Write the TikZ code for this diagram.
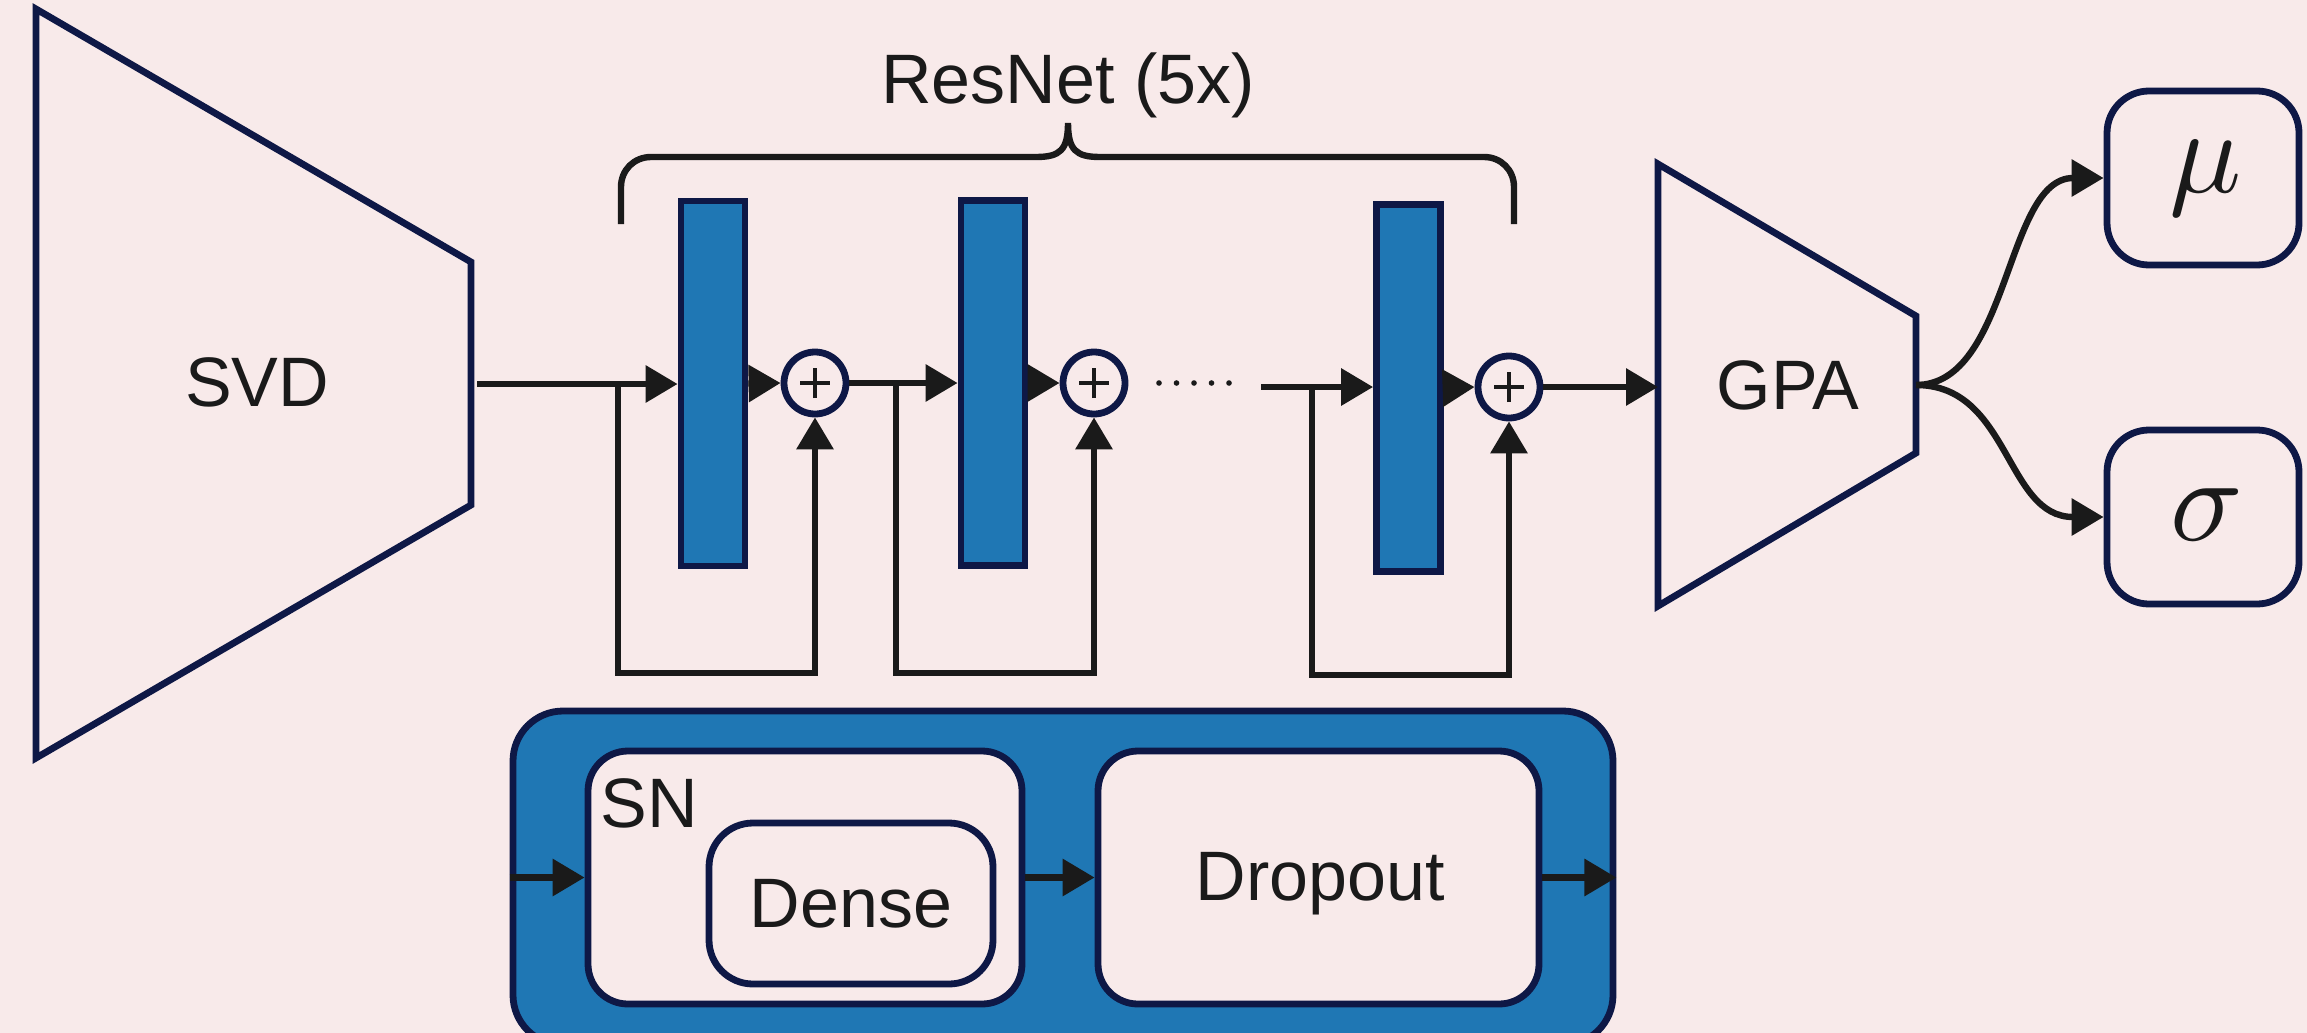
\documentclass[tikz,border=0pt]{standalone}
\usepackage{fontspec}
\setmainfont{Liberation Sans}
\usetikzlibrary{arrows.meta,calc}
\definecolor{bg}{RGB}{248,234,234}
\definecolor{tabblue}{RGB}{31,119,180}
\definecolor{navy}{RGB}{14,24,70}
\definecolor{ink}{RGB}{26,26,26}
\begin{document}
\begin{tikzpicture}[x=0.5pt,y=-0.5pt,
  arr/.style={draw=ink,line width=3.2pt,-{Triangle[length=16pt,width=18pt]}},
  ln/.style={draw=ink,line width=3.2pt},
  outl/.style={draw=navy,line width=3.4pt},
  bar/.style={outl,fill=tabblue,minimum width=32pt,minimum height=182.5pt,inner sep=0pt},
  plus/.style={circle,outl,fill=bg,minimum size=31pt,inner sep=0pt,
    path picture={\draw[ink,line width=2.2pt]
      ([xshift=-7.5pt]path picture bounding box.center) -- ([xshift=7.5pt]path picture bounding box.center)
      ([yshift=-7.5pt]path picture bounding box.center) -- ([yshift=7.5pt]path picture bounding box.center);}},
  lbl/.style={font=\fontsize{35}{42}\selectfont,text=ink,inner sep=0pt},
  rbox/.style={outl,fill=bg,rounded corners=20pt,inner sep=0pt},
  outbox/.style={outl,fill=bg,rounded corners=21pt,inner sep=0pt,minimum width=96pt,minimum height=87pt},
  greek/.style={scale=6,text=ink,inner sep=0pt},
]
\useasboundingbox (0,0) rectangle (2307,1033);
\clip (0,0) rectangle (2307,1033);
\fill[bg] (0,0) rectangle (2307,1033);

% SVD
\draw[outl,line join=miter] (36,9) -- (471,262) -- (471,505) -- (36,758) -- cycle;
\node[lbl] (svd) at (257,382) {SVD};
\coordinate (svdR) at (477,384);

% GPA
\draw[outl,line join=miter] (1658,164) -- (1916,316) -- (1916,453) -- (1658,606) -- cycle;
\node[lbl] (gpa) at (1788,385) {GPA};
\coordinate (gpaL) at (1658,387);
\coordinate (gpaR) at (1916,385);

% outputs
\node[outbox] (mu) at (2203,178) {};
\node[outbox] (sigma) at (2203,517) {};
\node[greek] (mul) at (2206,178) {$\mu$};
\node[greek] (sigmal) at (2207,515) {$\sigma$};

% residual blocks
\node[bar] (b1) at (713,383.5) {};
\node[bar] (b2) at (993,383) {};
\node[bar,minimum height=183.5pt] (b3) at (1408.5,388) {};
\node[plus] (c1) at (815,383) {};
\node[plus] (c2) at (1094,383) {};
\node[plus] (c3) at (1509,387) {};

\coordinate (br1) at (618,384);
\coordinate (l1) at (618,673);
\coordinate (br2) at (896,383);
\coordinate (l2) at (896,673);
\coordinate (in3) at (1261,387);
\coordinate (br3) at (1312,387);
\coordinate (l3) at (1312,675);

\draw[arr] (svdR) -- (svdR -| b1.west);
\draw[arr] (br1) -- (l1) -| (c1.south);
\draw[arr] (b1.east) -- (c1.west);
\draw[arr] (c1.east) -- (c1.east -| b2.west);
\draw[arr] (br2) -- (l2) -| (c2.south);
\draw[arr] (b2.east) -- (c2.west);

\foreach \i in {0,...,4} \fill[ink] (1159+\i*17.5,383) circle (1.4pt);

\draw[arr] (in3) -- (in3 -| b3.west);
\draw[arr] (br3) -- (l3) -| (c3.south);
\draw[arr] (b3.east) -- (c3.west);
\draw[arr] (c3.east) -- (gpaL);

\draw[arr] (gpaR) .. controls (2010,385) and (2005,178) .. (mu.west);
\draw[arr] (gpaR) .. controls (2010,385) and (2005,517) .. (sigma.west);

% brace
\draw[ln] (621,224) -- (621,187) .. controls (621,170) and (634,157) .. (651,157) -- (1036,157)
  .. controls (1060,157) and (1068,150) .. (1068,123)
  .. controls (1068,150) and (1076,157) .. (1100,157) -- (1484,157)
  .. controls (1501,157) and (1514,170) .. (1514,187) -- (1514,224);
\node[lbl,anchor=base] (resnet) at (1068,103) {ResNet (5x)};

% module detail
\node[outl,fill=tabblue,rounded corners=25pt,minimum width=550pt,minimum height=167pt,inner sep=0pt] (mod) at (1063,878) {};
\node[rbox,minimum width=217pt,minimum height=126.5pt] (sn) at (805,877.5) {};
\node[rbox,rounded corners=22pt,minimum width=142pt,minimum height=80.5pt] (dense) at (851,903.5) {};
\node[rbox,minimum width=220.5pt,minimum height=126.5pt] (drop) at (1318.5,877.5) {};
\node[lbl,anchor=base west] (snl) at (600,827) {SN};
\node[lbl,anchor=base] (densel) at (851,927) {Dense};
\node[lbl,anchor=base] (dropl) at (1320,900) {Dropout};

\draw[arr] (mod.west |- sn.west) -- (sn.west);
\draw[arr] (sn.east) -- (drop.west);
\draw[arr] (drop.east) -- (drop.east -| mod.east);
\end{tikzpicture}
\end{document}
